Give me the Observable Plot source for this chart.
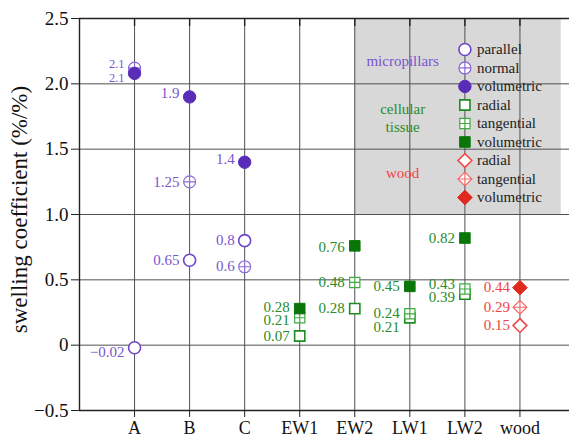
<!DOCTYPE html>
<html><head><meta charset="utf-8">
<script src="https://cdn.jsdelivr.net/npm/d3@7"></script>
<script src="https://cdn.jsdelivr.net/npm/@observablehq/plot@0.6"></script>
<style>
body{margin:0;background:#fff}
svg{display:block}
#chart svg, #chart svg text { font-family: "Liberation Serif", "Times New Roman", serif !important; }
</style>
</head><body><div id="chart"></div>
<script>
// ---- data ----
const categories = ["A", "B", "C", "EW1", "EW2", "LW1", "LW2", "wood"];
const yTicks = [-0.5, 0, 0.5, 1.0, 1.5, 2.0, 2.5];

const microCats = ["A", "B", "C"];
const microParallel = [-0.02, 0.65, 0.80];
const microParallelLabels = ["\u22120.02", "0.65", "0.8"];
const microNormal = [2.12, 1.25, 0.60];
const microNormalLabels = ["2.1", "1.25", "0.6"];
const microVolumetric = [2.08, 1.90, 1.40];
const microVolumetricLabels = ["2.1", "1.9", "1.4"];

const tissueCats = ["EW1", "EW2", "LW1", "LW2"];
const tissueRadial = [0.07, 0.28, 0.21, 0.39];
const tissueRadialLabels = ["0.07", "0.28", "0.21", "0.39"];
const tissueTangential = [0.21, 0.48, 0.24, 0.43];
const tissueTangentialLabels = ["0.21", "0.48", "0.24", "0.43"];
const tissueVolumetric = [0.28, 0.76, 0.45, 0.82];
const tissueVolumetricLabels = ["0.28", "0.76", "0.45", "0.82"];

const woodCats = ["wood"];
const woodRadial = [0.15];
const woodRadialLabels = ["0.15"];
const woodTangential = [0.29];
const woodTangentialLabels = ["0.29"];
const woodVolumetric = [0.44];
const woodVolumetricLabels = ["0.44"];

const groupNames = ["micropillars", "cellular\ntissue", "wood"];
const legendTexts = ["parallel", "normal", "volumetric", "radial", "tangential", "volumetric", "radial", "tangential", "volumetric"];

// ---- layout (label nudges in px, font overrides) ----
const labelDy = {
  "mpParallel|A": 4, "mpNormal|A": -4, "mpVol|A": 5,
  "mpVol|B": -4, "mpVol|C": -3, "mpNormal|C": -1,
  "ctVol|EW1": -1, "ctTang|EW1": 2, "ctVol|EW2": 1,
  "ctTang|LW1": -1, "ctRadial|LW1": 9,
  "ctTang|LW2": -5, "ctRadial|LW2": 3
};
const labelSize = {"mpNormal|A": 12.5, "mpVol|A": 12.5};

const FONT = "Liberation Serif";

// ---- custom symbols ----
const rad = s => Math.sqrt(s / Math.PI);
const circlePlus = {draw(ctx, size) { const r = rad(size);
  ctx.moveTo(r, 0); ctx.arc(0, 0, r, 0, 2 * Math.PI);
  ctx.moveTo(-r, 0); ctx.lineTo(r, 0); ctx.moveTo(0, -r); ctx.lineTo(0, r); }};
const square = {draw(ctx, size) { const h = rad(size) * 0.88;
  ctx.moveTo(-h, -h); ctx.lineTo(h, -h); ctx.lineTo(h, h); ctx.lineTo(-h, h); ctx.closePath(); }};
const squarePlus = {draw(ctx, size) { const h = rad(size) * 0.88;
  ctx.moveTo(-h, -h); ctx.lineTo(h, -h); ctx.lineTo(h, h); ctx.lineTo(-h, h); ctx.closePath();
  ctx.moveTo(-h, 0); ctx.lineTo(h, 0); ctx.moveTo(0, -h); ctx.lineTo(0, h); }};
const diamond = {draw(ctx, size) { const d = rad(size) * 1.15;
  ctx.moveTo(0, -d); ctx.lineTo(d, 0); ctx.lineTo(0, d); ctx.lineTo(-d, 0); ctx.closePath(); }};
const diamondPlus = {draw(ctx, size) { const d = rad(size) * 1.15;
  ctx.moveTo(0, -d); ctx.lineTo(d, 0); ctx.lineTo(0, d); ctx.lineTo(-d, 0); ctx.closePath();
  ctx.moveTo(-d, 0); ctx.lineTo(d, 0); ctx.moveTo(0, -d); ctx.lineTo(0, d); }};

const purple = "#6f45c9", purpleLight = "#8a6ad6", purpleDark = "#5a2db8", purpleText = "#7a55d0";
const green = "#1e8c1e", greenLight = "#40aa40", greenDark = "#0a760a", greenText = "#2a8c2a";
const red = "#f04848", redLight = "#f46a6a", redDark = "#e02a1f", redText = "#f04545";

const styles = {
  mpParallel: {symbol: "circle", r: 6, fill: "white", stroke: purple, strokeWidth: 1.6},
  mpNormal:   {symbol: circlePlus, r: 6, fill: "white", stroke: purpleLight, strokeWidth: 1.2},
  mpVol:      {symbol: "circle", r: 6.2, fill: purpleDark, stroke: purpleDark, strokeWidth: 1},
  ctRadial:   {symbol: square, r: 5.8, fill: "white", stroke: green, strokeWidth: 1.6},
  ctTang:     {symbol: squarePlus, r: 5.8, fill: "white", stroke: greenLight, strokeWidth: 1.2},
  ctVol:      {symbol: square, r: 6, fill: greenDark, stroke: greenDark, strokeWidth: 1},
  wRadial:    {symbol: diamond, r: 6, fill: "white", stroke: red, strokeWidth: 1.6},
  wTang:      {symbol: diamondPlus, r: 6, fill: "white", stroke: redLight, strokeWidth: 1.2},
  wVol:       {symbol: diamond, r: 6.4, fill: redDark, stroke: redDark, strokeWidth: 1}
};
const textColor = {mp: purpleText, ct: greenText, w: redText};

const series = [
  {key: "mpNormal", cats: microCats, values: microNormal, labels: microNormalLabels, tc: "mp"},
  {key: "mpParallel", cats: microCats, values: microParallel, labels: microParallelLabels, tc: "mp"},
  {key: "mpVol", cats: microCats, values: microVolumetric, labels: microVolumetricLabels, tc: "mp"},
  {key: "ctRadial", cats: tissueCats, values: tissueRadial, labels: tissueRadialLabels, tc: "ct"},
  {key: "ctTang", cats: tissueCats, values: tissueTangential, labels: tissueTangentialLabels, tc: "ct"},
  {key: "ctVol", cats: tissueCats, values: tissueVolumetric, labels: tissueVolumetricLabels, tc: "ct"},
  {key: "wRadial", cats: woodCats, values: woodRadial, labels: woodRadialLabels, tc: "w"},
  {key: "wTang", cats: woodCats, values: woodTangential, labels: woodTangentialLabels, tc: "w"},
  {key: "wVol", cats: woodCats, values: woodVolumetric, labels: woodVolumetricLabels, tc: "w"}
];

const xOf = c => categories.indexOf(c) + 1;
const xs = categories.map((c, i) => i + 1);
const gridColor = "#505050";
const axisColor = "#222";

const marks = [];
// grey legend box
marks.push(Plot.rect([{x1: 5, x2: 8.75, y1: 1.0, y2: 2.5}], {x1: "x1", x2: "x2", y1: "y1", y2: "y2", fill: "#d8d8d8"}));
// grid
marks.push(Plot.ruleY(yTicks.slice(1, -1), {stroke: gridColor, strokeWidth: 1}));
marks.push(Plot.ruleX(xs, {stroke: gridColor, strokeWidth: 1}));
// frame lines
marks.push(Plot.ruleY([-0.5, 2.5], {stroke: axisColor, strokeWidth: 1.4}));
marks.push(Plot.ruleX([0], {stroke: axisColor, strokeWidth: 1.4}));
// top inward ticks
marks.push(Plot.ruleX(xs, {stroke: axisColor, strokeWidth: 1.4, insetBottom: 384}));
// axes
marks.push(Plot.axisY({ticks: yTicks, tickSize: 8, tickPadding: 3, fontSize: 19, fontFamily: FONT, stroke: axisColor, fill: "#111",
  tickFormat: d => d === 0 ? "0" : (d < 0 ? "\u2212" : "") + Math.abs(d).toFixed(1), label: null}));
marks.push(Plot.axisX({ticks: xs, tickSize: 7, tickPadding: 4, fontSize: 18, fontFamily: FONT, stroke: axisColor, fill: "#111",
  tickFormat: i => categories[i - 1], label: null}));
// y label
marks.push(Plot.text(["swelling coefficient (%/%)"], {frameAnchor: "left", text: d => d, rotate: -90,
  textAnchor: "middle", lineAnchor: "middle", dx: -60, dy: -5, fontSize: 23, fontFamily: FONT, fill: "#111"}));

// data points and labels
for (const s of series) {
  const data = s.cats.map((c, i) => ({x: xOf(c), y: s.values[i], label: s.labels[i], cat: c}));
  const st = styles[s.key];
  marks.push(Plot.dot(data, {x: "x", y: "y", ...st}));
  for (const d of data) {
    const k = s.key + "|" + d.cat;
    marks.push(Plot.text([d], {x: "x", y: "y", text: "label", dx: -10, dy: labelDy[k] || 0,
      textAnchor: "end", fontSize: labelSize[k] || 15, fontFamily: FONT, fill: textColor[s.tc]}));
  }
}

// legend (inside grey box)
const legendKeys = Object.keys(styles);
const legendRows = legendKeys.map((k, i) => ({key: k, text: legendTexts[i], y: 2.263 - 0.1416 * i}));
for (const r of legendRows) {
  marks.push(Plot.dot([r], {x: () => 7, y: "y", ...styles[r.key]}));
}
marks.push(Plot.text(legendRows, {x: () => 7, y: "y", text: "text", dx: 12, textAnchor: "start", fontSize: 15, fontFamily: FONT, fill: "#222"}));
const groupLabels = [
  {text: groupNames[0], y: 2.18, c: purpleText},
  {text: groupNames[1], y: 1.745, c: greenText},
  {text: groupNames[2], y: 1.32, c: redText}
];
marks.push(Plot.text(groupLabels, {x: () => 5.87, y: "y", text: "text", fill: "c", fontSize: 15, fontFamily: FONT, lineHeight: 1.2}));

const chart = Plot.plot({
  width: 569, height: 440,
  marginLeft: 79, marginRight: 0, marginTop: 18, marginBottom: 30,
  x: {domain: [0, 8.9]},
  y: {domain: [-0.5, 2.5]},
  style: {background: "white", fontFamily: FONT},
  marks
});
document.getElementById("chart").appendChild(chart);
</script>
</body></html>
